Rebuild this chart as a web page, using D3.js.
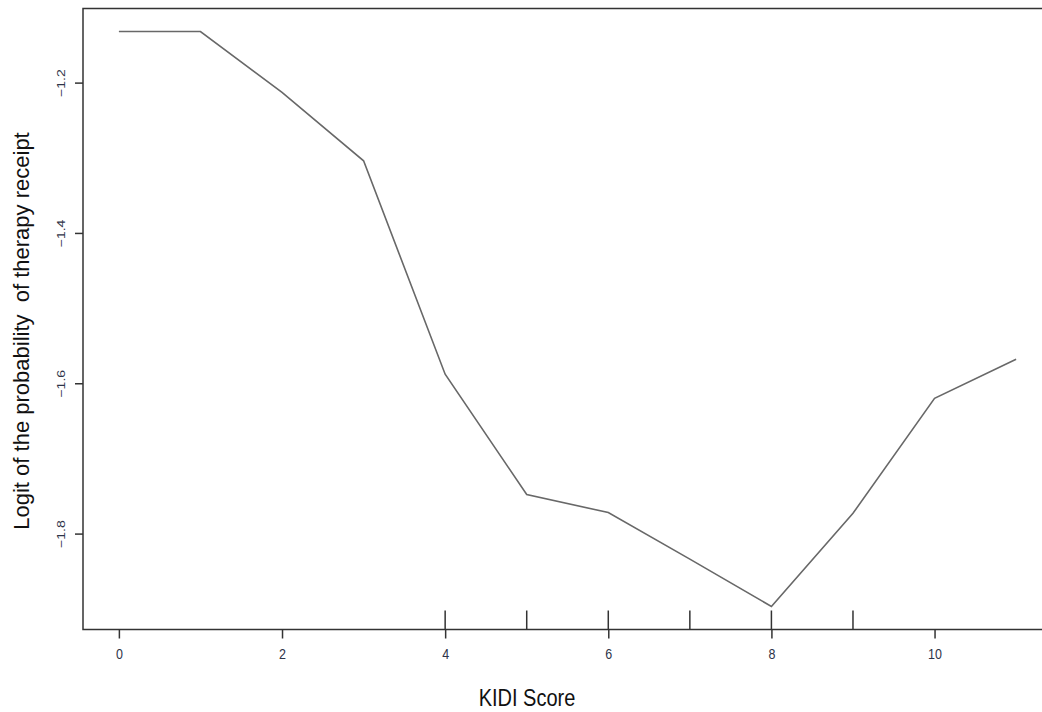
<!DOCTYPE html>
<html>
<head>
<meta charset="utf-8">
<script src="https://cdn.jsdelivr.net/npm/d3@7"></script>
<style>
  html, body { margin: 0; padding: 0; background: #fff; }
  svg { display: block; font-family: "Liberation Sans", Arial, sans-serif; }
</style>
</head>
<body>
<svg id="chart" width="1042" height="712"></svg>
<script>
// KIDI score vs. fitted logit of therapy receipt
const kidiScore = [0, 1, 2, 3, 4, 5, 6, 7, 8, 9, 10, 11];
const logitValues = [-1.132, -1.132, -1.213, -1.304, -1.588, -1.748, -1.772, -1.834, -1.897, -1.773, -1.620, -1.568];
// observed scores shown as a rug along the x axis
const rugScores = [4, 5, 6, 7, 8, 9];
const xTicks = [0, 2, 4, 6, 8, 10];
const yTicks = [-1.8, -1.6, -1.4, -1.2];
const xTitle = "KIDI Score";
const yTitle = "Logit of the probability  of therapy receipt";

const svg = d3.select("#chart");
const box = { left: 83, top: 8.5, right: 1052, bottom: 629.5 };
const vStretch = 1.22; // glyphs are drawn taller than wide

// R-style 4% axis padding
function padded(ext) {
  const d = (ext[1] - ext[0]) * 0.04;
  return [ext[0] - d, ext[1] + d];
}
const x = d3.scaleLinear().domain(padded(d3.extent(kidiScore))).range([box.left, box.right]);
const y = d3.scaleLinear().domain(padded(d3.extent(logitValues))).range([box.bottom, box.top]);

// plot frame
svg.append("rect")
  .attr("x", box.left).attr("y", box.top)
  .attr("width", box.right - box.left).attr("height", box.bottom - box.top)
  .attr("fill", "none").attr("stroke", "#333").attr("stroke-width", 1.5);

// axes
const xAxis = svg.append("g")
  .attr("transform", `translate(0,${box.bottom})`)
  .call(d3.axisBottom(x).tickValues(xTicks).tickSize(9).tickFormat(d3.format("d")));
const yAxis = svg.append("g")
  .attr("transform", `translate(${box.left},0)`)
  .call(d3.axisLeft(y).tickValues(yTicks).tickSize(8).tickFormat(d => d.toFixed(1).replace("-", "\u2212")));

[xAxis, yAxis].forEach(g => {
  g.select(".domain").remove();
  g.selectAll(".tick line").attr("stroke", "#333").attr("stroke-width", 1.5);
  g.selectAll(".tick text").attr("fill", "#2e3448")
    .attr("font-family", "'Liberation Sans', Arial, sans-serif");
});
xAxis.selectAll(".tick text")
  .attr("font-size", 12.5)
  .attr("y", null).attr("dy", null)
  .attr("dominant-baseline", "central")
  .attr("transform", `translate(0,24) scale(1,${vStretch})`);
yAxis.selectAll(".tick text")
  .attr("font-size", 11.5)
  .attr("x", null).attr("dy", null)
  .attr("text-anchor", "middle")
  .attr("dominant-baseline", "central")
  .attr("transform", `translate(-22,0) scale(1,${vStretch}) rotate(-90)`);

// rug
svg.append("g").selectAll("line").data(rugScores).join("line")
  .attr("x1", d => x(d)).attr("x2", d => x(d))
  .attr("y1", box.bottom).attr("y2", box.bottom - 19)
  .attr("stroke", "#333").attr("stroke-width", 1.5);

// fitted curve
const line = d3.line().x((d, i) => x(kidiScore[i])).y(d => y(d));
svg.append("path")
  .datum(logitValues)
  .attr("d", line)
  .attr("fill", "none").attr("stroke", "#686868").attr("stroke-width", 1.6);

// titles
svg.append("text")
  .attr("transform", `translate(527,706) scale(1,${vStretch})`)
  .attr("text-anchor", "middle").attr("font-size", 20).attr("fill", "#111")
  .text(xTitle);
svg.append("text")
  .attr("transform", `translate(29,331) rotate(-90)`)
  .attr("text-anchor", "middle").attr("font-size", 22).attr("fill", "#111")
  .attr("xml:space", "preserve").style("white-space", "pre")
  .text(yTitle);
</script>
</body>
</html>
